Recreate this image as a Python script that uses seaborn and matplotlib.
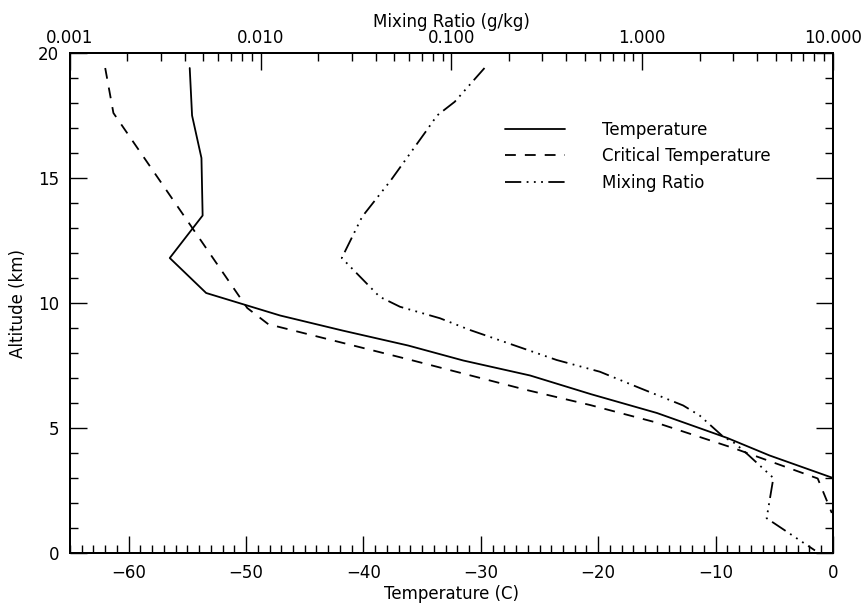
import numpy as np
import pandas as pd
import seaborn as sns
import matplotlib.pyplot as plt
from matplotlib.ticker import MultipleLocator, LogLocator, FixedLocator, FixedFormatter, NullFormatter
from matplotlib.lines import Line2D

# Temperature profile (C) vs altitude (km)
temp_c = [-54.8, -54.6, -53.8, -53.7, -56.5, -53.4, -50.6, -47.1, -41.8, -36.2,
          -31.5, -25.8, -20.6, -15.0, -9.0, -5.4, 0.0]
temp_alt = [19.4, 17.5, 15.8, 13.5, 11.8, 10.4, 10.0, 9.5, 8.9, 8.3,
            7.7, 7.1, 6.35, 5.6, 4.6, 3.9, 3.0]

# Critical temperature (C) vs altitude (km)
crit_c = [-62.0, -61.3, -49.9, -48.1, -36.2, -26.1, -20.7, -15.3, -8.5, -1.3, -0.4, -0.1]
crit_alt = [19.4, 17.6, 9.8, 9.15, 7.75, 6.52, 5.92, 5.25, 4.2, 2.98, 1.95, 1.6]

# Mixing ratio (g/kg) vs altitude (km)
mix_gkg = [0.149, 0.104, 0.084, 0.074, 0.048, 0.034, 0.0266, 0.042, 0.0537,
           0.087, 0.125, 0.356, 0.60, 0.97, 1.64, 2.0, 2.66, 3.06, 3.6, 4.87, 4.49, 8.05]
mix_alt = [19.4, 18.05, 17.5, 16.9, 14.9, 13.45, 11.8, 10.25, 9.85,
           9.39, 8.92, 7.72, 7.25, 6.6, 5.9, 5.5, 4.65, 4.39, 3.92, 3.0, 1.39, 0.1]

temp_ticks = [-60, -50, -40, -30, -20, -10, 0]
mix_ticks = [0.001, 0.01, 0.1, 1.0, 10.0]
mix_labels = ['0.001', '0.010', '0.100', '1.000', '10.000']

sns.set_style("ticks")
plt.rcParams['font.family'] = ['DejaVu Sans']
for key in ('text.color', 'axes.labelcolor', 'xtick.color', 'ytick.color'):
    plt.rcParams[key] = 'black'
FONTSIZE = 12

temp_df = pd.DataFrame({'x': temp_c, 'y': temp_alt})
crit_df = pd.DataFrame({'x': crit_c, 'y': crit_alt})
mix_df = pd.DataFrame({'x': mix_gkg, 'y': mix_alt})

fig = plt.figure(figsize=(8.63, 6.06), dpi=100)
ax = fig.add_axes([0.0811, 0.0875, 0.8841, 0.825])

LW = 1.3
DASHED = (0, (6, 5))
DASHDOT3 = (0, (9, 3, 1, 3, 1, 3, 1, 3))

sns.lineplot(data=temp_df, x='x', y='y', sort=False, estimator=None,
             color='black', linewidth=LW, ax=ax)
sns.lineplot(data=crit_df, x='x', y='y', sort=False, estimator=None,
             color='black', linewidth=LW, linestyle=DASHED, ax=ax)

ax.set_xlim(-65, 0)
ax.set_ylim(0, 20)
ax.set_xticks(temp_ticks)
ax.xaxis.set_minor_locator(MultipleLocator(1))
ax.yaxis.set_major_locator(MultipleLocator(5))
ax.yaxis.set_minor_locator(MultipleLocator(1))
ax.set_xlabel('Temperature (C)', fontsize=FONTSIZE, labelpad=2)
ax.set_ylabel('Altitude (km)', fontsize=FONTSIZE, labelpad=8)
ax.tick_params(which='both', direction='in', top=False, right=True,
               labelsize=FONTSIZE, width=1, color='black', pad=8)
ax.tick_params(which='major', length=12)
ax.tick_params(which='minor', length=6)

ax2 = ax.twiny()
sns.lineplot(data=mix_df, x='x', y='y', sort=False, estimator=None,
             color='black', linewidth=LW, linestyle=DASHDOT3, ax=ax2)
ax2.set_xscale('log')
ax2.set_xlim(0.001, 10)
ax2.xaxis.set_major_locator(FixedLocator(mix_ticks))
ax2.xaxis.set_major_formatter(FixedFormatter(mix_labels))
ax2.xaxis.set_minor_locator(LogLocator(base=10, subs=np.arange(2, 10)))
ax2.xaxis.set_minor_formatter(NullFormatter())
ax2.set_xlabel('Mixing Ratio (g/kg)', fontsize=FONTSIZE, labelpad=2)
ax2.set_ylabel('')
ax2.tick_params(which='both', direction='in', labelsize=FONTSIZE, width=1,
                color='black', pad=4)
ax2.tick_params(which='major', length=12)
ax2.tick_params(which='minor', length=6)
ax2.set_ylim(0, 20)

for a in (ax, ax2):
    for sp in a.spines.values():
        sp.set_visible(True)
        sp.set_linewidth(1.4)
        sp.set_color('black')

handles = [
    Line2D([0], [0], color='black', linewidth=LW, label='Temperature'),
    Line2D([0], [0], color='black', linewidth=LW, linestyle=DASHED, label='Critical Temperature'),
    Line2D([0], [0], color='black', linewidth=LW, linestyle=DASHDOT3, label='Mixing Ratio'),
]
ax2.legend(handles=handles, loc='upper left', bbox_to_anchor=(505 / 863, 1 - 121 / 606),
           bbox_transform=fig.transFigure, frameon=False, fontsize=FONTSIZE,
           handlelength=3.6, handletextpad=2.2, labelspacing=0.5,
           borderpad=0, borderaxespad=0)

fig.savefig('out.png', dpi=100)
